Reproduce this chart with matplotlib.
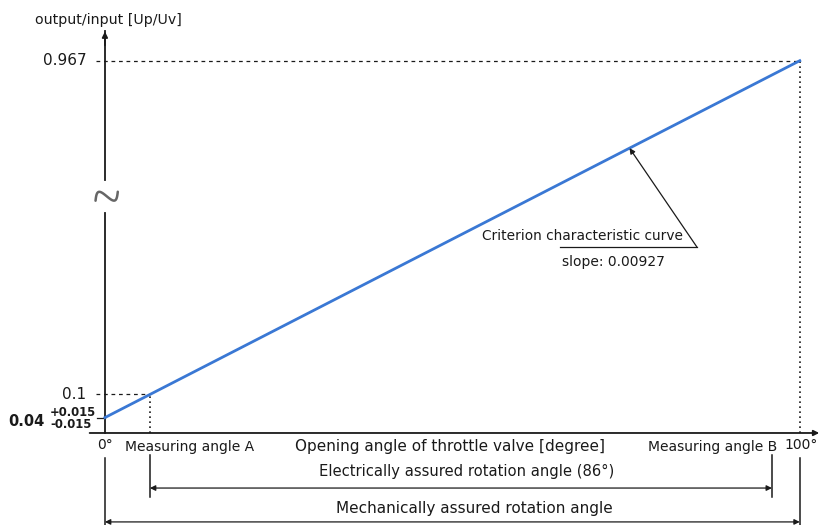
import matplotlib
matplotlib.use("Agg")
import matplotlib.pyplot as plt
import numpy as np

# Characteristic: output/input ratio vs throttle opening angle
intercept = 0.04
slope = 0.00927
angle_range = [0, 100]
tol_plus = "+0.015"
tol_minus = "-0.015"
y_marks = [0.1, 0.967]
y_mark_labels = ["0.1", "0.967"]
angle_b = 96.0
angle_a = (y_marks[0] - intercept) / slope
electrical_angle = 86
x_labels = ["0°", "Measuring angle A", "Opening angle of throttle valve [degree]",
            "Measuring angle B", "100°"]

line_x = angle_range
line_y = [intercept + slope * a for a in angle_range]

plt.rcParams['font.family'] = ['DejaVu Sans']
fig = plt.figure(figsize=(8.22, 5.25), dpi=100)
ax = fig.add_axes([0, 0, 1, 1])
ax.set_xlim(-15.1, 103.2)
ax.set_ylim(-0.239, 1.1247)
ax.axis("off")

ink = "#1a1a1a"

# y axis with break
ax.plot([0, 0], [0, 0.571], color=ink, lw=1.3)
ax.plot([0, 0], [0.657, 1.045], color=ink, lw=1.3)
ax.annotate("", xy=(0, 1.05), xytext=(0, 1.0),
            arrowprops=dict(arrowstyle="-|>", color=ink, lw=1.3, mutation_scale=8))

# axis-break squiggle, drawn in pixel units around its centre
fig.canvas.draw()
cx, cy = ax.transData.transform((0.25, 0.615))
t = np.linspace(0, 2 * np.pi, 80)
u = (t / (2 * np.pi)) * 24 - 12
v = 7.0 * np.sin(t)
ang = np.deg2rad(22)
px = cx + u * np.cos(ang) - v * np.sin(ang)
py = cy + u * np.sin(ang) + v * np.cos(ang)
ax.plot(px, py, transform=None, color="#666666", lw=1.8, solid_capstyle="round")

ax.text(-10.1, 1.073, "output/input [Up/Uv]", fontsize=10.2, va="center", ha="left", color=ink)

# x axis
ax.annotate("", xy=(103.2, 0), xytext=(-2.6, 0),
            arrowprops=dict(arrowstyle="-|>", color=ink, lw=1.3, mutation_scale=8))

# reference lines
ax.plot([-1.3, 100], [y_marks[1]] * 2, ls=(0, (3, 3)), color=ink, lw=0.9)
ax.plot([100, 100], [0, y_marks[1]], ls=(0, (1, 2)), color=ink, lw=1.2)
ax.plot([-1.3, angle_a], [y_marks[0]] * 2, ls=(0, (3, 3)), color=ink, lw=0.9)
ax.plot([angle_a, angle_a], [0, y_marks[0]], ls=(0, (1, 2)), color=ink, lw=1.2)
ax.plot([-1.2, 0], [intercept] * 2, color=ink, lw=0.9)

for v_, lab in zip(y_marks, y_mark_labels):
    ax.text(-2.7, v_, lab, ha="right", va="center", fontsize=11, color=ink)

# 0.04 with tolerance
ax.text(-13.9, intercept - 0.011, "0.04", ha="left", va="center", fontsize=10.5,
        fontweight="bold", color=ink)
ax.text(-7.9, 0.052, tol_plus, ha="left", va="center", fontsize=8.4,
        fontweight="bold", color=ink)
ax.text(-7.9, 0.021, tol_minus, ha="left", va="center", fontsize=8.4,
        fontweight="bold", color=ink)

# characteristic line
ax.plot(line_x, line_y, color="#3a78d4", lw=2)

# annotation of the curve
tip_x = 75.5
tip_y = intercept + slope * tip_x
ax.plot([65.5, 85.2], [0.483, 0.483], color=ink, lw=0.9)
ax.annotate("", xy=(tip_x, tip_y), xytext=(85.2, 0.483),
            arrowprops=dict(arrowstyle="-|>", color=ink, lw=0.9, mutation_scale=8,
                            shrinkA=0, shrinkB=0))
ax.text(83.2, 0.512, "Criterion characteristic curve", ha="right", va="center",
        fontsize=9.9, color=ink)
ax.text(65.8, 0.444, f"slope: {slope:.5f}", ha="left", va="center", fontsize=10, color=ink)

# labels under the x axis
yl = -0.036
ax.text(0, yl + 0.004, x_labels[0], ha="center", va="center", fontsize=10, color=ink)
ax.text(12.2, yl, x_labels[1], ha="center", va="center", fontsize=10, color=ink)
ax.text(49.6, yl, x_labels[2], ha="center", va="center", fontsize=11, color=ink)
ax.text(96.8, yl, x_labels[3], ha="right", va="center", fontsize=10, color=ink)
ax.text(100.2, yl + 0.006, x_labels[4], ha="center", va="center", fontsize=10, color=ink)

# dimension lines
for xv, y0, y1 in [(0, -0.065, -0.239), (100, -0.065, -0.239),
                   (angle_a, -0.057, -0.166), (angle_b, -0.057, -0.166)]:
    ax.plot([xv, xv], [y0, y1], color=ink, lw=1.1)

ax.annotate("", xy=(angle_a, -0.143), xytext=(angle_b, -0.143),
            arrowprops=dict(arrowstyle="<|-|>", color=ink, lw=0.9, mutation_scale=8,
                            shrinkA=0, shrinkB=0))
ax.text(52, -0.101, f"Electrically assured rotation angle ({electrical_angle}°)",
        ha="center", va="center", fontsize=10.6, color=ink)
ax.annotate("", xy=(0, -0.231), xytext=(100, -0.231),
            arrowprops=dict(arrowstyle="<|-|>", color=ink, lw=0.9, mutation_scale=8,
                            shrinkA=0, shrinkB=0))
ax.text(53.2, -0.195, "Mechanically assured rotation angle", ha="center", va="center",
        fontsize=11, color=ink)

fig.savefig("out.png", dpi=100, facecolor="white")
